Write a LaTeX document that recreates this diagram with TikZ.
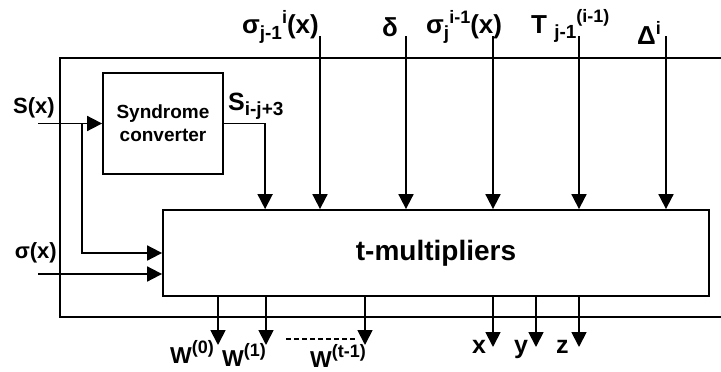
\documentclass[tikz,border=0pt]{standalone}
\usepackage{fontspec}
\setmainfont{Liberation Sans}
\usetikzlibrary{positioning, calc, arrows.meta}
\newcommand{\lowtxt}[1]{\raisebox{-0.2em}{\fontsize{19}{19}\selectfont #1}}
\newcommand{\hightxt}[1]{\raisebox{0.42em}{\fontsize{18}{18}\selectfont #1}}

\begin{document}
\begin{tikzpicture}[x=1pt, y=-1pt,
    blk/.style={rectangle, draw, line width=1.8pt, inner sep=0pt,
                align=center, font=\fontsize{19}{23}\selectfont\bfseries},
    wire/.style={line width=1.8pt},
    arr/.style={-{Triangle[length=15pt,width=15pt]}, line width=1.8pt},
    lab/.style={inner sep=0pt, font=\fontsize{26}{28}\selectfont\bfseries},
    olab/.style={inner sep=0pt, font=\fontsize{23}{25}\selectfont\bfseries}]

  \useasboundingbox (0,0) rectangle (721,372);

  %--- Bloques ---
  \node[blk, minimum width=120pt, minimum height=101pt] (syn) at (163,123.5)
    {Syndrome\\converter};
  \node[blk, minimum width=546pt, minimum height=86pt,
        font=\fontsize{28}{30}\selectfont\bfseries] (mult) at (436,253)
    {t-multipliers};

  %--- Marco exterior ---
  \draw[wire] (721,58) -- (60,58) -- (60,317) -- (721,317);

  %--- Entradas izquierda ---
  \coordinate (sin)   at (38,123.5);
  \coordinate (br)    at (82,123.5);
  \coordinate (sigin) at (38,274);
  \draw[arr] (sin) -- (syn.west);
  \draw[arr] (br) |- (mult.west);
  \draw[arr] (sigin) -- (sigin -| mult.west);
  \node[lab, font=\fontsize{22}{24}\selectfont\bfseries, anchor=base east]
    (slab) at (55,113) {S(x)};
  \node[lab, font=\fontsize{22}{24}\selectfont\bfseries, anchor=base east]
    (siglab) at (57,258) {σ(x)};

  %--- Salida del conversor ---
  \draw[arr] (syn.east) -| ([xshift=103pt]mult.north west);
  \node[lab, font=\fontsize{25}{27}\selectfont\bfseries, anchor=base west]
    (sij) at (228,110) {S\lowtxt{i-j+3}};

  %--- Entradas superiores ---
  \coordinate (in1) at (320,36);
  \coordinate (in2) at (406,36);
  \coordinate (in3) at (493,36);
  \coordinate (in4) at (579,36);
  \coordinate (in5) at (666,36);
  \draw[arr] (in1) -- (in1 |- mult.north);
  \draw[arr] (in2) -- (in2 |- mult.north);
  \draw[arr] (in3) -- (in3 |- mult.north);
  \draw[arr] (in4) -- (in4 |- mult.north);
  \draw[arr] (in5) -- (in5 |- mult.north);
  \node[lab, anchor=base east] (sig1) at (319,34)
    {σ\lowtxt{j-1}\hightxt{i}(x)};
  \node[lab, anchor=base west] (del) at (382,36) {δ};
  \node[lab, anchor=base west] (sig2) at (426,34)
    {σ\lowtxt{j}\hightxt{i-1}(x)};
  \node[lab, anchor=base west] (tlab) at (531,33)
    {T \lowtxt{j-1}\hightxt{(i-1)}};
  \node[lab, anchor=base west] (dlt) at (637,45) {Δ\hightxt{i}};

  %--- Salidas inferiores ---
  \coordinate (w0) at (218,345);
  \coordinate (w1) at (266,345);
  \coordinate (wt) at (365,345);
  \coordinate (ox) at (493,347);
  \coordinate (oy) at (536,347);
  \coordinate (oz) at (579,347);
  \draw[arr] (w0 |- mult.south) -- (w0);
  \draw[arr] (w1 |- mult.south) -- (w1);
  \draw[arr] (wt |- mult.south) -- (wt);
  \draw[arr] (ox |- mult.south) -- (ox);
  \draw[arr] (oy |- mult.south) -- (oy);
  \draw[arr] (oz |- mult.south) -- (oz);
  \node[olab, anchor=base west] (lw0) at (170,363) {W\hightxt{(0)}};
  \node[olab, anchor=base west] (lw1) at (222,366) {W\hightxt{(1)}};
  \node[olab, anchor=base west] (lwt) at (310,367) {W\hightxt{(t-1)}};
  \draw[wire, dash pattern=on 5pt off 3pt] (286,339) -- (355,339);
  \node[olab, font=\fontsize{25}{27}\selectfont\bfseries, anchor=base west]
    (lx) at (472,353) {x};
  \node[olab, font=\fontsize{25}{27}\selectfont\bfseries, anchor=base west]
    (ly) at (514,353) {y};
  \node[olab, font=\fontsize{25}{27}\selectfont\bfseries, anchor=base west]
    (lz) at (556,353) {z};
\end{tikzpicture}
\end{document}
